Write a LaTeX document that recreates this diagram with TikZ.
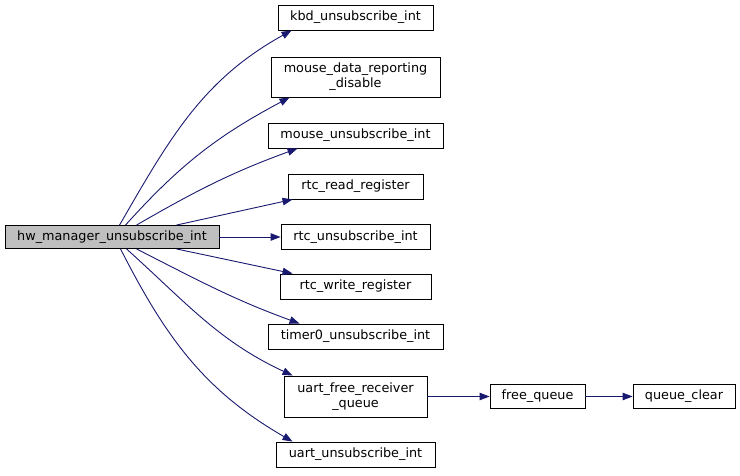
\documentclass[tikz,border=0pt]{standalone}
\usepackage{fontspec}
\setmainfont{DejaVu Sans}
\usetikzlibrary{arrows.meta}
\definecolor{edgeblue}{HTML}{191970}
\definecolor{maingray}{HTML}{BFBFBF}
\begin{document}
\begin{tikzpicture}[x=1pt,y=1pt,
  fn/.style={draw=black,line width=0.9pt,fill=white,inner sep=0pt,align=center,
    font=\fontsize{12.8}{15}\selectfont},
  call/.style={draw=edgeblue,line width=0.9pt,-{Triangle[length=10pt,width=7.5pt]},color=edgeblue}]
\useasboundingbox (0,0) rectangle (740,475);
\node[fn,fill=maingray,minimum width=214,minimum height=23] (main) at (112,238) {hw\_manager\_unsubscribe\_int};
\node[fn,minimum width=155,minimum height=25] (kbd) at (355.5,457.5) {kbd\_unsubscribe\_int};
\node[fn,minimum width=169,minimum height=40] (mdr) at (355.5,398) {mouse\_data\_reporting\\\_disable};
\node[fn,minimum width=175,minimum height=25] (mun) at (355.5,339.5) {mouse\_unsubscribe\_int};
\node[fn,minimum width=135,minimum height=25] (rrd) at (355.5,288.5) {rtc\_read\_register};
\node[fn,minimum width=149,minimum height=25] (run) at (355.5,238) {rtc\_unsubscribe\_int};
\node[fn,minimum width=151,minimum height=25] (rwr) at (355.5,188.5) {rtc\_write\_register};
\node[fn,minimum width=175,minimum height=25] (tun) at (355.5,138.5) {timer0\_unsubscribe\_int};
\node[fn,minimum width=143,minimum height=41] (ufr) at (355.5,78.5) {uart\_free\_receiver\\\_queue};
\node[fn,minimum width=159,minimum height=25] (uun) at (355.5,20.5) {uart\_unsubscribe\_int};
\node[fn,minimum width=95,minimum height=24] (fq) at (537.5,78.5) {free\_queue};
\node[fn,minimum width=102,minimum height=24] (qc) at (684,78.5) {queue\_clear};
\draw[call] ([xshift=115pt]main.north west) to[out=60,in=-151] ([xshift=14pt]kbd.south west);
\draw[call] ([xshift=121pt]main.north west) to[out=48,in=-152] ([xshift=19pt]mdr.south west);
\draw[call] ([xshift=132pt]main.north west) to[out=30,in=-160] ([xshift=30pt]mun.south west);
\draw[call] ([xshift=172pt]main.north west) -- ([xshift=5pt]rrd.south west);
\draw[call] (main.east) -- (run.west);
\draw[call] ([xshift=172pt]main.south west) -- ([xshift=13pt]rwr.north west);
\draw[call] ([xshift=132pt]main.south west) to[out=-27,in=160] ([xshift=32pt]tun.north west);
\draw[call] ([xshift=122pt]main.south west) to[out=-42,in=155] ([xshift=9pt]ufr.north west);
\draw[call] ([xshift=116pt]main.south west) to[out=-63,in=150] ([xshift=17pt]uun.north west);
\draw[call] (ufr.east) -- (fq.west);
\draw[call] (fq.east) -- (qc.west);
\end{tikzpicture}
\end{document}
